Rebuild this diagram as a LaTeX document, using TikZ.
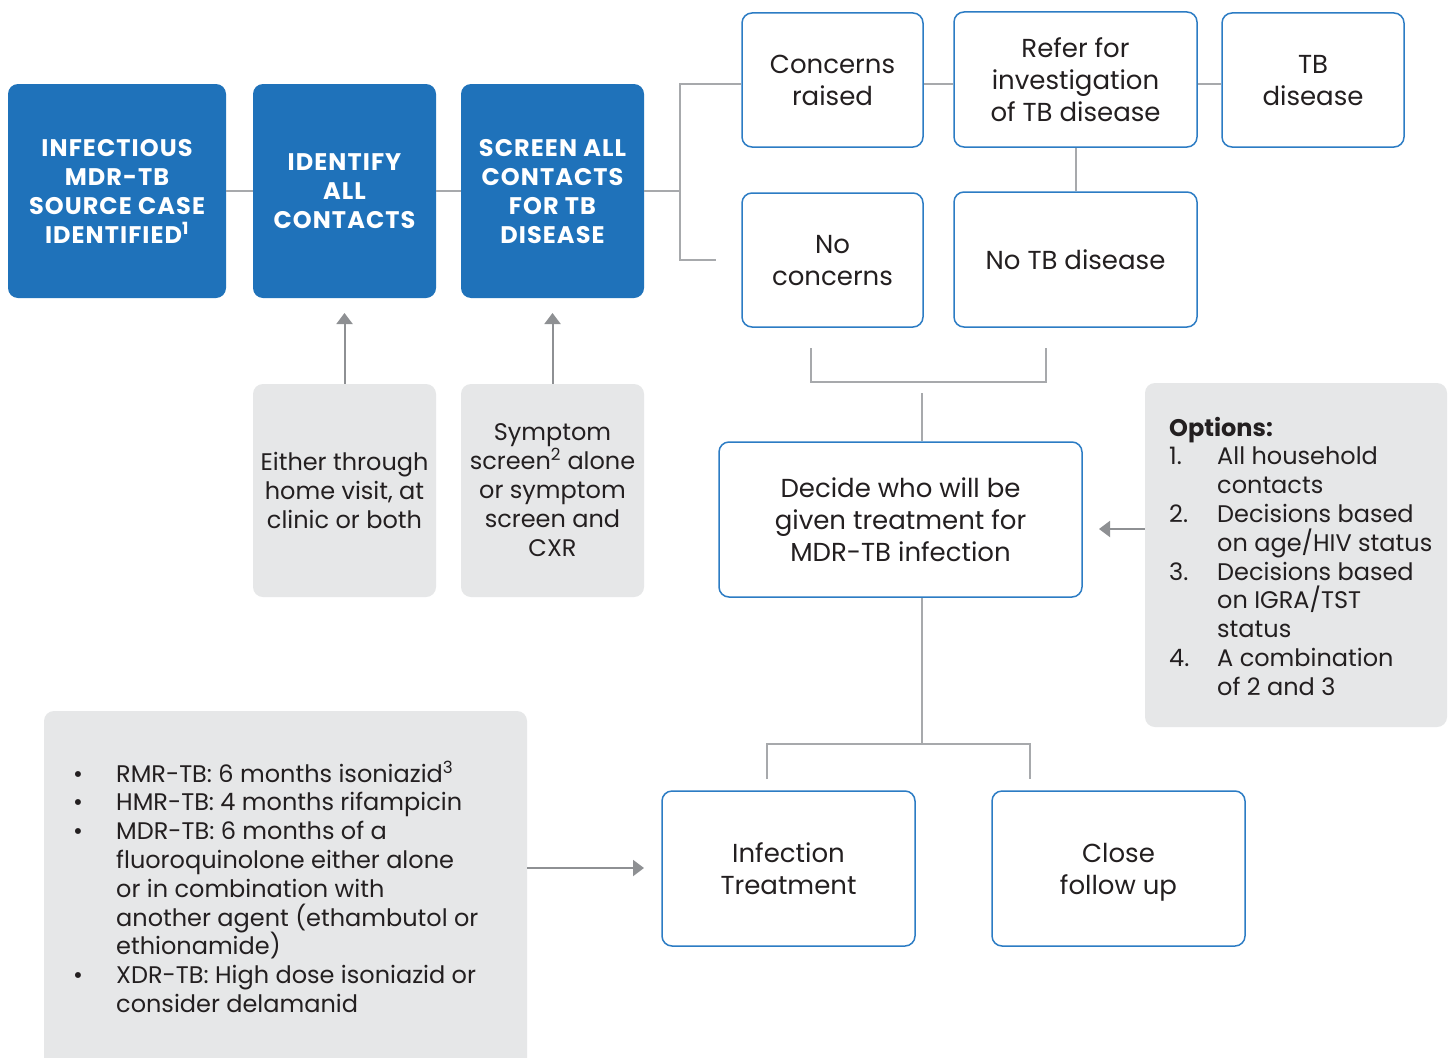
\documentclass[tikz,border=0pt]{standalone}
\usepackage{fontspec}
\setmainfont{Poppins}
\usetikzlibrary{arrows.meta}
\definecolor{tbblue}{HTML}{1F72BA}
\definecolor{tbedge}{HTML}{2C7CC4}
\definecolor{linegray}{HTML}{A7A9AC}
\definecolor{arrowgray}{HTML}{8E9093}
\definecolor{boxgray}{HTML}{E6E7E8}
\definecolor{ink}{HTML}{231F20}
% list cells keep a fixed row pitch
\newcommand{\sm}[1]{\smash{#1}}
\tikzset{
  bluebox/.style={fill=tbblue, rounded corners=10pt, inner sep=0pt, text=white,
    align=center, text depth=-5pt,
    font=\bfseries\fontsize{24}{29}\selectfont\addfontfeatures{LetterSpace=4.5}},
  whitebox/.style={draw=tbedge, line width=1.5pt, fill=white, rounded corners=10pt,
    inner sep=0pt, text=ink, align=center, text depth=-3pt, font=\fontsize{26}{32}\selectfont},
  graybox/.style={fill=boxgray, rounded corners=10pt, inner sep=0pt, text=ink,
    align=center, text depth=-4.5pt, font=\fontsize{24}{29}\selectfont},
  listtext/.style={inner sep=0pt, text=ink, align=left, font=\fontsize{24}{28.8}\selectfont},
  conn/.style={draw=linegray, line width=2pt},
  arr/.style={draw=arrowgray, line width=2pt, -{Triangle[length=11pt,width=16pt]}},
}
\begin{document}
\begin{tikzpicture}[x=1pt,y=-1pt]
\clip (0,0) rectangle (1455,1057);
\fill[white] (0,0) rectangle (1455,1057);

% main process steps
\node[bluebox, minimum width=218pt, minimum height=214pt] (src) at (117,191)
  {INFECTIOUS\\MDR-TB\\SOURCE CASE\\IDENTIFIED\textsuperscript{1}};
\node[bluebox, minimum width=183pt, minimum height=214pt] (ident) at (344.5,191)
  {IDENTIFY\\ALL\\CONTACTS};
\node[bluebox, minimum width=183pt, minimum height=214pt] (screen) at (552.5,191)
  {SCREEN ALL\\CONTACTS\\FOR TB\\DISEASE};

% screening outcomes
\node[whitebox, minimum width=181pt, minimum height=134pt] (concerns) at (832.5,80) {Concerns\\raised};
\node[whitebox, minimum width=243pt, minimum height=135pt] (refer) at (1075.5,79.5) {Refer for\\investigation\\of TB disease};
\node[whitebox, minimum width=182pt, minimum height=134pt] (tbdis) at (1313,80) {TB\\disease};
\node[whitebox, minimum width=181pt, minimum height=134pt] (nocon) at (832.5,260) {No\\concerns};
\node[whitebox, minimum width=243pt, minimum height=135pt] (notb) at (1075.5,259.5) {No TB disease};

% treatment decision
\node[whitebox, minimum width=363pt, minimum height=155pt] (decide) at (900.5,519.5)
  {Decide who will be\\given treatment for\\MDR-TB infection};
\node[whitebox, minimum width=253pt, minimum height=155pt] (inftx) at (788.5,868.5) {Infection\\Treatment};
\node[whitebox, minimum width=253pt, minimum height=155pt] (close) at (1118.5,868.5) {Close\\follow up};

% notes
\node[graybox, minimum width=183pt, minimum height=213pt] (either) at (344.5,490.5)
  {Either through\\home visit, at\\clinic or both};
\node[graybox, minimum width=183pt, minimum height=213pt] (symptom) at (552.5,490.5)
  {Symptom\\screen\textsuperscript{2} alone\\or symptom\\screen and\\CXR};
\node[graybox, minimum width=302pt, minimum height=344pt] (options) at (1296,555) {};
\node[listtext, anchor=west] (optText) at (1169,560) {%
  \begin{tabular}{@{}p{48pt}@{}l@{}}
  \multicolumn{2}{@{}l}{\sm{\bfseries Options:}}\\
  \sm{1.} & \sm{All household}\\
          & \sm{contacts}\\
  \sm{2.} & \sm{Decisions based}\\
          & \sm{on age/HIV status}\\
  \sm{3.} & \sm{Decisions based}\\
          & \sm{on IGRA/TST}\\
          & \sm{status}\\
  \sm{4.} & \sm{A combination}\\
          & \sm{of 2 and 3}
  \end{tabular}};
\node[graybox, minimum width=483pt, minimum height=359pt] (regimen) at (285.5,890.5) {};
\node[listtext, anchor=west] (regText) at (73,891.5) {%
  \begin{tabular}{@{}p{43pt}@{}l@{}}
  \sm{\textbullet} & \sm{RMR-TB: 6 months isoniazid\textsuperscript{3}}\\
  \sm{\textbullet} & \sm{HMR-TB: 4 months rifampicin}\\
  \sm{\textbullet} & \sm{MDR-TB: 6 months of a}\\
                   & \sm{fluoroquinolone either alone}\\
                   & \sm{or in combination with}\\
                   & \sm{another agent (ethambutol or}\\
                   & \sm{ethionamide)}\\
  \sm{\textbullet} & \sm{XDR-TB: High dose isoniazid or}\\
                   & \sm{consider delamanid}
  \end{tabular}};

% branch points
\coordinate (br) at (680,191);
\coordinate (brBot) at (680,260);
\coordinate (brEnd) at (716,260);
\coordinate (bkL) at (811,348);
\coordinate (bkR) at (1046,348);
\coordinate (dTop) at (922,393);
\coordinate (dBot) at (922,744);
\coordinate (spL) at (767,779);
\coordinate (spR) at (1030,779);
\coordinate (identTip) at (344.5,313);
\coordinate (screenTip) at (552.5,313);
\coordinate (decTip) at (1099,529);
\coordinate (infTip) at (644,868);

% connectors
\draw[conn] (src) -- (ident);
\draw[conn] (ident) -- (screen);
\draw[conn] (screen.east) -- (br);
\draw[conn] ([yshift=-4pt]concerns.west) -| (brBot) -- (brEnd);
\draw[conn] ([yshift=-4pt]concerns.east) -- ([yshift=-4pt]concerns.east -| refer.west);
\draw[conn] ([yshift=-4.5pt]refer.east) -- ([yshift=-4.5pt]refer.east -| tbdis.west);
\draw[conn] (refer) -- (notb);
\draw[conn] (bkL) -- ++(0,34) -| (bkR);
\draw[conn] (dTop) -- (dTop |- decide.north);
\draw[conn] (dBot |- decide.south) -- (dBot);
\draw[conn] (spL) |- (dBot) -| (spR);

% arrows
\draw[arr] (either.north) -- (identTip);
\draw[arr] (symptom.north) -- (screenTip);
\draw[arr] (options.west |- decTip) -- (decTip);
\draw[arr] (regimen.east |- infTip) -- (infTip);
\end{tikzpicture}
\end{document}
